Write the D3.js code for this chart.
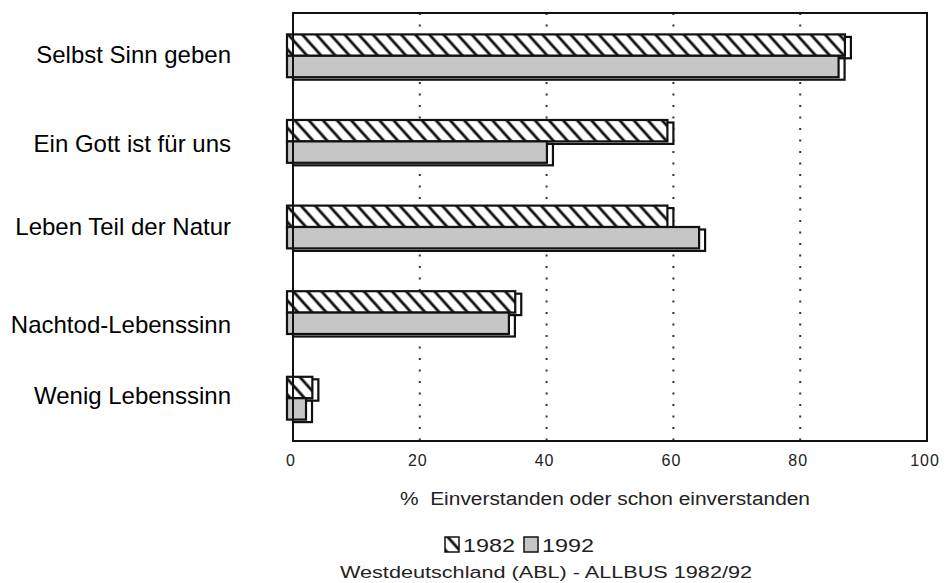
<!DOCTYPE html>
<html><head><meta charset="utf-8">
<script src="https://cdn.jsdelivr.net/npm/d3@7"></script>
<style>
body{margin:0;background:#fff;}
svg{display:block;font-family:"Liberation Sans",Arial,sans-serif;}
</style></head>
<body>
<svg id="chart" width="948" height="583"></svg>
<script>
const categories = ["Selbst Sinn geben","Ein Gott ist für uns","Leben Teil der Natur","Nachtod-Lebenssinn","Wenig Lebenssinn"];
const values1982 = [88, 60, 60, 36, 4];
const values1992 = [87, 41, 65, 35, 3];
const seriesNames = ["1982","1992"];
const xTicks = [0, 20, 40, 60, 80, 100];
const xTitle = "% Einverstanden oder schon einverstanden";
const sourceNote = "Westdeutschland (ABL) - ALLBUS 1982/92";

const svg = d3.select("#chart");
const L = 293, R = 927, T = 13, B = 441;
const x = d3.scaleLinear().domain([0,100]).range([L,R]);
const y = d3.scaleBand().domain(categories).range([T,B]).paddingInner(0.5).paddingOuter(0.25);
const ys = d3.scaleBand().domain(seriesNames).range([0,y.bandwidth()]);

const defs = svg.append("defs");
const pat = defs.append("pattern").attr("id","hatch").attr("patternUnits","userSpaceOnUse")
  .attr("width",10.5).attr("height",10).attr("patternTransform","rotate(-42)");
pat.append("rect").attr("width",10.5).attr("height",10).attr("fill","#fff");
pat.append("line").attr("x1",2).attr("x2",2).attr("y1",0).attr("y2",10).attr("stroke","#111").attr("stroke-width",2.8);

// gridlines
svg.append("g").selectAll("line").data(xTicks.filter(t=>t>0&&t<100)).join("line")
  .attr("x1",d=>x(d)).attr("x2",d=>x(d)).attr("y1",T).attr("y2",B)
  .attr("stroke","#333").attr("stroke-width",2).attr("stroke-dasharray","2,9.5");

const dx = 6, dy = 2.5;
const series = [
  {name:"1982", vals:values1982, fill:"url(#hatch)"},
  {name:"1992", vals:values1992, fill:"#c6c6c6"}
];
series.forEach(s=>{
  const g = svg.append("g");
  const data = categories.map((c,i)=>({c, v:s.vals[i]}));
  g.selectAll("rect.back").data(data).join("rect").attr("class","back")
    .attr("x",x(0)).attr("y",d=>y(d.c)+ys(s.name)+dy)
    .attr("width",d=>x(d.v)-x(0)).attr("height",ys.bandwidth())
    .attr("fill","#fff").attr("stroke","#111").attr("stroke-width",2.2);
  g.selectAll("rect.front").data(data).join("rect").attr("class","front")
    .attr("x",x(0)-dx).attr("y",d=>y(d.c)+ys(s.name))
    .attr("width",d=>x(d.v)-x(0)).attr("height",ys.bandwidth())
    .attr("fill",s.fill).attr("stroke","#111").attr("stroke-width",2.2);
});

// frame
svg.append("rect").attr("x",L).attr("y",T).attr("width",R-L).attr("height",B-T)
  .attr("fill","none").attr("stroke","#111").attr("stroke-width",2);

// category labels
const nudge = [-1,2,-1,12,-3];
svg.append("g").selectAll("text").data(categories).join("text")
  .attr("x",231).attr("y",(d,i)=>y(d)+y.bandwidth()/2+nudge[i])
  .attr("text-anchor","end").attr("dominant-baseline","central")
  .attr("font-size",24).attr("fill","#000").text(d=>d);

// tick labels
svg.append("g").selectAll("text").data(xTicks).join("text")
  .attr("x",d=>x(d)-2).attr("y",466).attr("text-anchor","middle")
  .attr("font-size",16).attr("letter-spacing",1).attr("fill","#222").text(d=>d);

svg.append("text").attr("x",400).attr("y",505)
  .attr("font-size",18).attr("fill","#222").attr("textLength",410).attr("lengthAdjust","spacingAndGlyphs")
  .text(xTitle.replace("% ","%\u00a0\u00a0"));

// legend
const lg = svg.append("g").attr("transform","translate(445,537)");
const items = [{name:seriesNames[0],fill:"url(#hatch)",x:0},{name:seriesNames[1],fill:"#c6c6c6",x:79}];
items.forEach(it=>{
  lg.append("rect").attr("x",it.x).attr("y",0).attr("width",14).attr("height",15)
    .attr("fill",it.fill).attr("stroke","#111").attr("stroke-width",1.5);
  lg.append("text").attr("x",it.x+18).attr("y",15).attr("font-size",18).attr("fill","#222")
    .attr("textLength",52).attr("lengthAdjust","spacingAndGlyphs").text(it.name);
});

svg.append("text").attr("x",340).attr("y",578)
  .attr("font-size",16).attr("fill","#222").attr("textLength",412).attr("lengthAdjust","spacingAndGlyphs")
  .text(sourceNote);
</script>
</body></html>
